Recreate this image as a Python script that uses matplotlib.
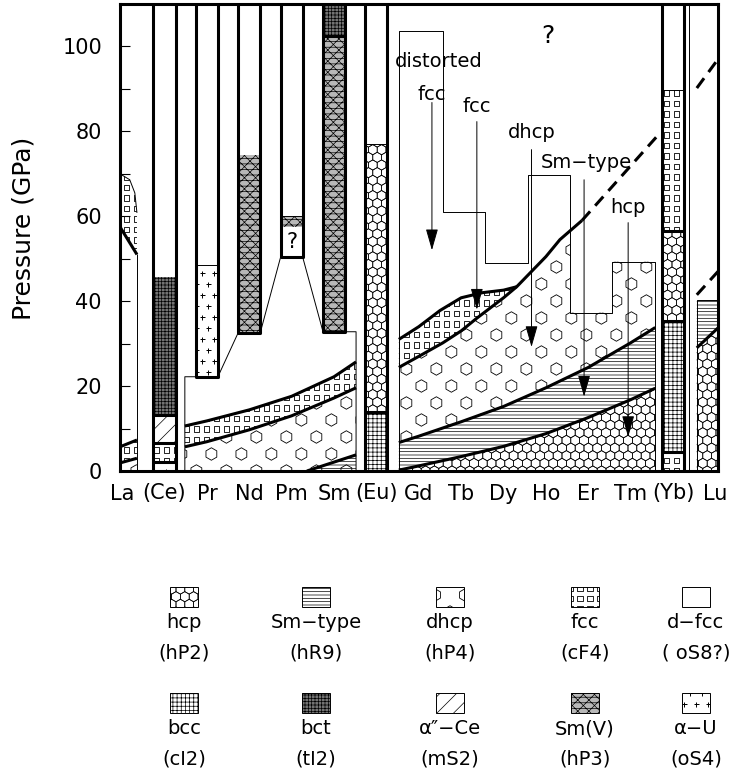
import matplotlib.pyplot as plt
import numpy as np
from matplotlib.patches import Polygon, Rectangle

plt.rcParams['font.family'] = ['DejaVu Sans']
plt.rcParams['hatch.linewidth'] = 0.5

# x axis: atomic number, y axis: pressure in GPa
elements = ['La', '(Ce)', 'Pr', 'Nd', 'Pm', 'Sm', '(Eu)', 'Gd', 'Tb', 'Dy',
            'Ho', 'Er', 'Tm', '(Yb)', 'Lu']
z = np.arange(57, 72)
tick_z = np.arange(59, 71)

# La
la_x = [56.95, 57.35]
la_dhcp_top = [1.9, 3.0]
la_fcc_top = [5.7, 7.3]
la_hi = [57.5, 51.0]
la_curve_x = [57.35, 57.30, 57.18, 56.95]
la_curve = [60.8, 65.5, 68.6, 70.0]

# single-element columns: segment edges and phases
ce_edges = [0, 2.1, 6.6, 13.2, 45.8]
ce_phases = ['aU', 'fcc', 'aCe', 'bct']
eu_edges = [0, 14, 77]
eu_phases = ['bcc', 'hcp']
yb_edges = [0, 4.5, 35.3, 56.6, 89.8]
yb_phases = ['fcc', 'bcc', 'hcp', 'fcc']

# Pr..Sm high-pressure bars
bar_z = [59, 60, 61, 62]
bar_bottom = [22.2, 32.6, 50.4, 32.8]
bar_edges = [[22.2, 48.5], [32.6, 74.5], [57.5, 60.0], [32.8, 102.4, 110]]
bar_phases = [['aU'], ['SmV'], ['SmV'], ['SmV', 'bct']]

# Pr..Sm low-pressure block
prsm_x = [58.48, 59, 60, 61, 62, 62.52]
prsm_dhcp_top = [5.7, 6.9, 9.7, 13.0, 17.2, 19.6]
prsm_fcc_top = [10.6, 11.8, 14.4, 17.6, 22.2, 25.7]
prsm_sm_x = [61.36, 62.52]
prsm_sm_top = [0.0, 3.8]

# Gd..Tm block
gd_x = [63.53, 64, 65, 66, 67, 68, 69, 69.58]
gd_hcp_top = [0.2, 1.2, 3.4, 5.8, 8.8, 12.6, 16.8, 19.5]
gd_sm_top = [6.7, 8.2, 11.6, 15.2, 19.6, 24.4, 30.2, 33.8]
gd_dhcp_x = [63.53, 64, 64.57, 65, 65.37, 66, 66.31, 67, 67.33, 67.85]
gd_dhcp_top = [24.4, 27.0, 30.2, 33.0, 36.0, 40.8, 43.4, 50.5, 54.5, 59.0]
gd_fcc_x = [63.53, 64, 64.5, 65, 65.5, 66, 66.31]
gd_fcc_top = [31.0, 34.0, 37.8, 40.8, 42.0, 42.6, 43.4]
gd_dash_x = [67.85, 69.6]
gd_dash = [59.0, 78.6]
step_x = [63.53, 63.53, 64.57, 64.57, 65.56, 65.56, 66.57, 66.57,
          67.57, 67.57, 68.56, 68.56, 69.58, 69.58]
step_p = [0, 103.6, 103.6, 61, 61, 49, 49, 69.8, 69.8, 37.3, 37.3,
          49.3, 49.3, 0]

# Lu
lu_x = [70.56, 71.06]
lu_hcp_top = [29.0, 33.7]
lu_sm_top = 40.3
lu_dash_lo = [41.5, 47.0]
lu_dash_hi = [90.2, 97.0]

# labelled arrows: text, text x, text y, line x, line top, tip
arrow_text = ['fcc', 'dhcp', 'Sm−type', 'hcp']
arrow_tx = [65.37, 66.67, 67.95, 68.94]
arrow_ty = [85.8, 79.7, 72.6, 62.0]
arrow_x = [65.37, 66.66, 67.9, 68.94]
arrow_top = [82.3, 75.7, 68.6, 58.5]
arrow_tip = [38.0, 29.2, 17.5, 8.0]

legend_names = [['hcp', 'Sm−type', 'dhcp', 'fcc', 'd−fcc'],
                ['bcc', 'bct', 'α″−Ce', 'Sm(V)', 'α−U']]
legend_codes = [['(hP2)', '(hR9)', '(hP4)', '(cF4)', '( oS8?)'],
                ['(cI2)', '(tI2)', '(mS2)', '(hP3)', '(oS4)']]
legend_phase = [['hcp', 'SmType', 'dhcp', 'fcc', 'dfcc'],
                ['bcc', 'bct', 'aCe', 'SmV', 'aU']]

# fill patterns: marker lattices (sizes in pixels) and hatches
MARKS = {
    'hcp': dict(marker='h', size=10.2, dx=8.8, dy=7.65, stagger=True, lw=0.5),
    'dhcp': dict(marker='h', size=12.5, dx=30, dy=17, stagger=True, lw=0.6),
    'fcc': dict(marker='s', size=5.5, dx=10, dy=10.5, stagger=False, lw=0.6),
    'aU': dict(marker='+', size=5, dx=12, dy=11, stagger=True, lw=0.7),
}
HATCH = {'SmType': '-----', 'bcc': '++++', 'bct': '+++++', 'aCe': '//',
         'SmV': 'xxx---'}
FILL = {'bct': '0.45', 'SmV': '0.72'}

THICK = 2.2
THIN = 0.7

fig = plt.figure(figsize=(7.32, 7.80), dpi=100)
ax = fig.add_axes([120 / 732, 309 / 780, 598 / 732, 467 / 780])
ax.set_xlim(56.95, 71.06)
ax.set_ylim(0, 110)


def px_scale(a):
    bb = a.get_position()
    w = bb.width * fig.get_figwidth() * fig.dpi
    h = bb.height * fig.get_figheight() * fig.dpi
    x0, x1 = a.get_xlim()
    y0, y1 = a.get_ylim()
    return w / abs(x1 - x0), h / abs(y1 - y0)


def fill(a, xy, phase):
    xy = np.asarray(xy, dtype=float)
    poly = Polygon(xy, closed=True, facecolor=FILL.get(phase, 'white'),
                   edgecolor='black', lw=0, hatch=HATCH.get(phase), zorder=1)
    a.add_patch(poly)
    if phase not in MARKS:
        return
    m = MARKS[phase]
    sx, sy = px_scale(a)
    ddx, ddy = m['dx'] / sx, m['dy'] / sy
    xmin, xmax = xy[:, 0].min(), xy[:, 0].max()
    ymin, ymax = xy[:, 1].min(), xy[:, 1].max()
    xs, ys = [], []
    for r in np.arange(np.floor(ymin / ddy) - 1, np.ceil(ymax / ddy) + 2):
        off = (r % 2) * ddx / 2 if m['stagger'] else 0
        cols = np.arange(np.floor((xmin - off) / ddx) - 1,
                         np.ceil((xmax - off) / ddx) + 2)
        xs.extend(cols * ddx + off)
        ys.extend([r * ddy] * len(cols))
    ms = m['size'] * 72 / fig.dpi
    if m['marker'] == '+':
        sc = a.scatter(xs, ys, s=ms ** 2, marker='+', color='black',
                       linewidths=m['lw'], zorder=2)
    else:
        sc = a.scatter(xs, ys, s=ms ** 2, marker=m['marker'], facecolors='none',
                       edgecolors='black', linewidths=m['lw'], zorder=2)
    sc.set_clip_path(poly)


def band(x, lo, hi):
    x = list(x)
    return list(zip(x + x[::-1], list(lo) + list(hi)[::-1]))


def line(x, y, lw=THICK, **kw):
    ax.plot(x, y, color='black', lw=lw, solid_capstyle='butt', zorder=4, **kw)


def column(zc, edges, phases, thick_at=(), thin_at=(), half=0.26):
    for lo, hi, ph in zip(edges[:-1], edges[1:], phases):
        fill(ax, [(zc - half, lo), (zc + half, lo), (zc + half, hi), (zc - half, hi)], ph)
    for p in thick_at:
        line([zc - half, zc + half], [p, p])
    for p in thin_at:
        line([zc - half, zc + half], [p, p], lw=THIN)


# ---- La ----
fill(ax, band(la_x, [0, 0], la_dhcp_top), 'dhcp')
fill(ax, band(la_x, la_dhcp_top, la_fcc_top), 'fcc')
fill(ax, list(zip(la_x, la_hi)) + list(zip(la_curve_x, la_curve)), 'fcc')
line(la_x, la_dhcp_top)
line(la_x, la_fcc_top)
line(la_x, la_hi)
line(la_curve_x, la_curve, lw=THIN)
line([57.35, 57.35], [0, 51], lw=THIN)

# ---- Ce, Eu, Yb columns ----
column(58, ce_edges, ce_phases, thick_at=ce_edges[1:4])
column(63, eu_edges, eu_phases, thick_at=[eu_edges[1]], thin_at=[eu_edges[2]])
column(70, yb_edges, yb_phases, thick_at=yb_edges[1:4], thin_at=[yb_edges[4]])
for zc in (58, 63, 70):
    line([zc - 0.26, zc - 0.26], [0, 110])
    line([zc + 0.26, zc + 0.26], [0, 110])

# ---- Pr..Sm ----
fill(ax, band(prsm_x, [0] * len(prsm_x), prsm_dhcp_top), 'dhcp')
fill(ax, [(prsm_sm_x[0], 0), (prsm_sm_x[1], 0), (prsm_sm_x[1], prsm_sm_top[1])], 'SmType')
fill(ax, band(prsm_x, prsm_dhcp_top, prsm_fcc_top), 'fcc')
line(prsm_sm_x, prsm_sm_top)
line(prsm_x, prsm_dhcp_top)
line(prsm_x, prsm_fcc_top)

outline_x = [prsm_x[0], prsm_x[0]]
outline_p = [0, bar_bottom[0]]
for zc, b in zip(bar_z, bar_bottom):
    outline_x += [zc - 0.26, zc + 0.26]
    outline_p += [b, b]
outline_x += [prsm_x[-1], prsm_x[-1]]
outline_p += [bar_bottom[-1], 0]
line(outline_x, outline_p, lw=THIN)

for zc, b, e, ph in zip(bar_z, bar_bottom, bar_edges, bar_phases):
    column(zc, e, ph)
    line([zc - 0.26, zc - 0.26, zc + 0.26, zc + 0.26], [110, b, b, 110])
line([58.74, 59.26], [48.5, 48.5], lw=THIN)
line([60.74, 61.26], [60.0, 60.0], lw=THIN)
line([61.74, 62.26], [102.4, 102.4])
ax.text(61.0, 54.0, '?', ha='center', va='center', fontsize=15, zorder=5)

# ---- Gd..Tm ----
zero = [0] * len(gd_x)
fill(ax, band(gd_x, zero, gd_hcp_top), 'hcp')
fill(ax, band(gd_x, gd_hcp_top, gd_sm_top), 'SmType')
top_at_567 = float(np.interp(67.57, gd_dhcp_x, gd_dhcp_top))
dhcp_poly = list(zip(gd_x, gd_sm_top))
dhcp_poly += [(69.58, 49.3), (68.56, 49.3), (68.56, 37.3), (67.57, 37.3),
              (67.57, top_at_567)]
dhcp_poly += [(x, p) for x, p in zip(gd_dhcp_x[::-1], gd_dhcp_top[::-1]) if x < 67.57]
fill(ax, dhcp_poly, 'dhcp')
fcc_lo = np.interp(gd_fcc_x, gd_dhcp_x, gd_dhcp_top)
fill(ax, band(gd_fcc_x, fcc_lo, gd_fcc_top), 'fcc')

line(step_x, step_p, lw=THIN)
line(gd_x, gd_hcp_top)
line(gd_x, gd_sm_top)
line(gd_dhcp_x, gd_dhcp_top)
line(gd_fcc_x, gd_fcc_top)
line(gd_dash_x, gd_dash, linestyle=(0, (4, 2.5)))

arrow_style = dict(arrowstyle='-|>,head_length=0.7,head_width=0.2',
                   mutation_scale=19, lw=THIN, color='black',
                   shrinkA=0, shrinkB=0)
for t, tx, ty, x, top, tip in zip(arrow_text, arrow_tx, arrow_ty, arrow_x,
                                  arrow_top, arrow_tip):
    ax.text(tx, ty, t, ha='center', va='center', fontsize=14, zorder=6)
    ax.annotate('', xy=(x, tip), xytext=(x, top), zorder=5, arrowprops=arrow_style)
ax.text(64.46, 96.5, 'distorted', ha='center', va='center', fontsize=14, zorder=6)
ax.text(64.31, 88.7, 'fcc', ha='center', va='center', fontsize=14, zorder=6)
ax.annotate('', xy=(64.31, 52.0), xytext=(64.31, 86.8), zorder=5,
            arrowprops=arrow_style)
ax.text(67.05, 102.4, '?', ha='center', va='center', fontsize=18, zorder=6)

# ---- Lu ----
fill(ax, band(lu_x, [0, 0], lu_hcp_top), 'hcp')
fill(ax, band(lu_x, lu_hcp_top, [lu_sm_top] * 2), 'SmType')
line([70.37, 70.37], [0, 110], lw=THIN)
line([lu_x[0], lu_x[0], lu_x[1]], [0, lu_sm_top, lu_sm_top], lw=THIN)
line(lu_x, lu_hcp_top)
line(lu_x, lu_dash_lo, linestyle=(0, (4, 2.5)))
line(lu_x, lu_dash_hi, linestyle=(0, (4, 2.5)))

# ---- axes ----
for s in ax.spines.values():
    s.set_linewidth(THICK)
    s.set_zorder(6)
ax.set_xticks(z)
ax.set_xticklabels(elements, fontsize=15)
ax.set_xticks(tick_z, minor=True)
ax.tick_params(axis='x', which='major', length=0, pad=9)
ax.tick_params(axis='x', which='minor', direction='in', length=7.2, width=2.2)
ax.set_yticks(np.arange(0, 101, 20))
ax.set_yticks(np.arange(10, 100, 20), minor=True)
ax.tick_params(axis='y', which='both', direction='in', length=7, width=0.8,
               labelsize=15, pad=13)
ax.set_ylabel('Pressure (GPa)', fontsize=18)
ax.yaxis.set_label_coords(-0.142, 0.52)

# ---- legend ----
lax = fig.add_axes([0, 0, 1, 230 / 780])
lax.set_xlim(0, 732)
lax.set_ylim(780, 550)
lax.axis('off')
col_x = [184, 316, 450, 585, 696]
sw_y = [587, 693]
for r in range(2):
    for c in range(5):
        x0 = col_x[c] - 14
        y0 = sw_y[r]
        fill(lax, [(x0, y0), (x0 + 28, y0), (x0 + 28, y0 + 20), (x0, y0 + 20)],
             legend_phase[r][c])
        lax.add_patch(Rectangle((x0, y0), 28, 20, fill=False, lw=THIN,
                                edgecolor='black', zorder=3))
        lax.text(col_x[c], y0 + 36, legend_names[r][c], ha='center',
                 va='center', fontsize=14)
        lax.text(col_x[c], y0 + 66, legend_codes[r][c], ha='center',
                 va='center', fontsize=14)

fig.savefig('out.png', dpi=100)
